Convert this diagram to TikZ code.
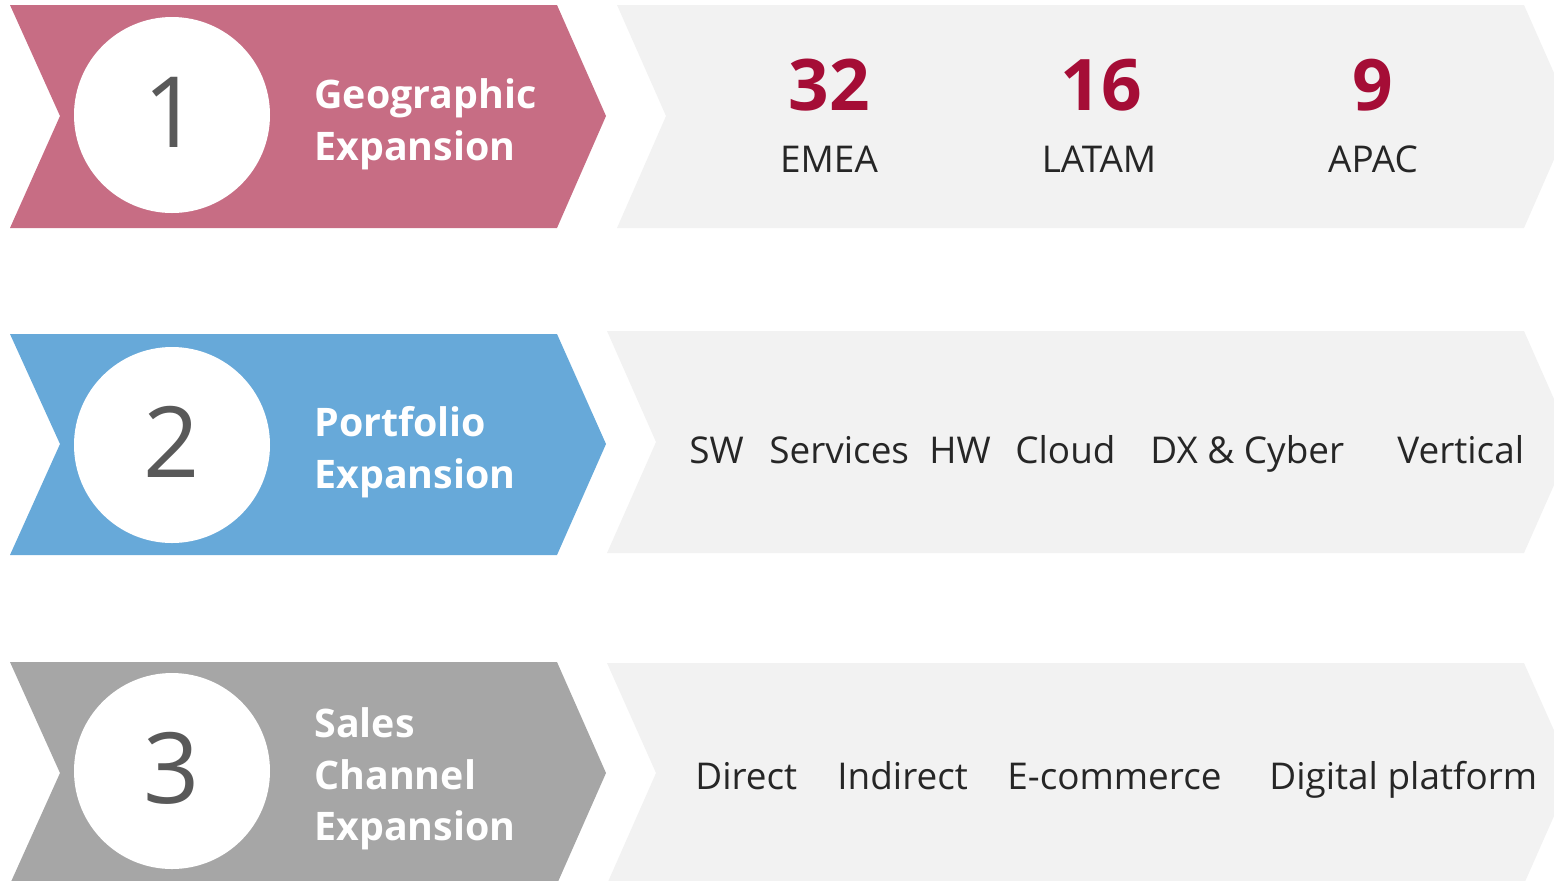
\documentclass[tikz,border=0pt]{standalone}
\usepackage{fontspec}
\setmainfont{Open Sans}
\definecolor{pinkc}{HTML}{C76D84}
\definecolor{bluec}{HTML}{67A9D9}
\definecolor{grayc}{HTML}{A6A6A6}
\definecolor{lightc}{HTML}{F2F2F2}
\definecolor{redc}{HTML}{A50D36}
\definecolor{txtc}{HTML}{262626}
\definecolor{digc}{HTML}{595959}
\tikzset{
  circ/.style={circle,fill=white,minimum size=196*0.02cm,inner sep=0pt},
  bigdig/.style={font=\fontsize{56}{56}\selectfont,text=digc,anchor=base,inner sep=0pt},
  headtxt/.style={font=\fontsize{22.4}{29}\selectfont\bfseries,text=white,anchor=base west,inner sep=0pt},
  numtxt/.style={font=\fontsize{40.5}{41}\selectfont\bfseries,text=redc,anchor=base,inner sep=0pt},
  labtxt/.style={font=\fontsize{21}{26}\selectfont,text=txtc,anchor=base,inner sep=0pt},
  itemtxt/.style={font=\fontsize{21}{26}\selectfont,text=txtc,anchor=base west,inner sep=0pt},
}
\begin{document}
\begin{tikzpicture}[x=0.02cm,y=-0.02cm]
\useasboundingbox (0,0) rectangle (1554,880);
\clip (0,0) rectangle (1554,880);
% row 1
\fill[pinkc] (10,5) -- (557,5) -- (606,116) -- (557,228) -- (10,228) -- (60,116) -- cycle;
\fill[lightc] (617,5) -- (1524,5) -- (1573,116) -- (1524,228) -- (617,228) -- (666,116) -- cycle;
% row 2
\fill[bluec] (10,334) -- (557,334) -- (606,444) -- (557,555) -- (10,555) -- (60,444) -- cycle;
\fill[lightc] (607,331) -- (1524,331) -- (1573,442) -- (1524,553) -- (607,553) -- (656,442) -- cycle;
% row 3
\fill[grayc] (10,662) -- (557,662) -- (606,773) -- (557,884) -- (10,884) -- (60,773) -- cycle;
\fill[lightc] (607,663) -- (1524,663) -- (1573,773) -- (1524,884) -- (607,884) -- (656,773) -- cycle;
% circles
\node[circ] (c1) at (172,115) {};
\node[circ] (c2) at (172,445) {};
\node[circ] (c3) at (172,771) {};
\node[bigdig] (d1) at (172,147) {1};
\node[bigdig] (d2) at (172,477) {2};
\node[bigdig] (d3) at (172,803) {3};
% headings
\node[headtxt] (h1a) at (314,108) {Geographic};
\node[headtxt] (h1b) at (314,160) {Expansion};
\node[headtxt] (h2a) at (314,436) {Portfolio};
\node[headtxt] (h2b) at (314,488) {Expansion};
\node[headtxt] (h3a) at (314,737) {Sales};
\node[headtxt] (h3b) at (314,789) {Channel};
\node[headtxt] (h3c) at (314,840) {Expansion};
% row 1 content
\node[numtxt] (n1) at (829,110) {32};
\node[numtxt] (n2) at (1101,110) {16};
\node[numtxt] (n3) at (1373,110) {9};
\node[labtxt] (l1) at (829,172) {EMEA};
\node[labtxt] (l2) at (1099,172) {LATAM};
\node[labtxt] (l3) at (1373,172) {APAC};
% row 2 content
\node[itemtxt] (i1) at (689,463) {SW};
\node[itemtxt] (i2) at (769,463) {Services};
\node[itemtxt] (i3) at (929,463) {HW};
\node[itemtxt] (i4) at (1015,463) {Cloud};
\node[itemtxt] (i5) at (1150,463) {DX \& Cyber};
\node[itemtxt] (i6) at (1397,463) {Vertical};
% row 3 content
\node[itemtxt] (j1) at (695,789) {Direct};
\node[itemtxt] (j2) at (837,789) {Indirect};
\node[itemtxt] (j3) at (1007,789) {E-commerce};
\node[itemtxt] (j4) at (1269,789) {Digital platform};
\end{tikzpicture}
\end{document}
